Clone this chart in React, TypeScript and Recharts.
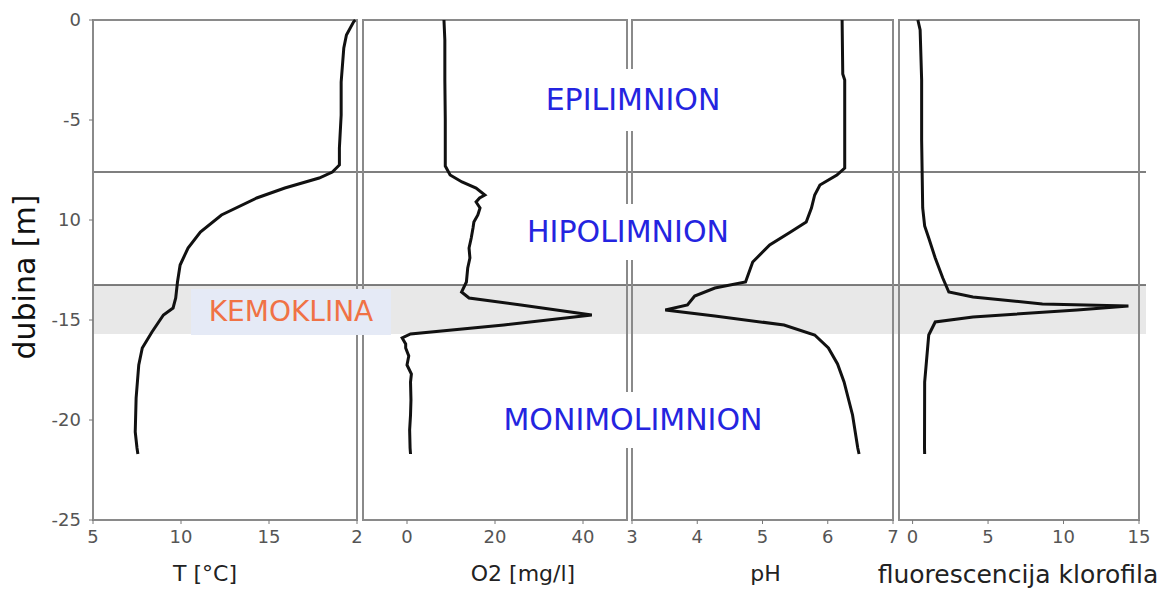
import React from 'react';
import { LineChart, Line, XAxis, YAxis, ReferenceArea, ReferenceLine, Label } from 'recharts';

// depth profiles (depth in m, negative downwards)
const tempDepth = [0, -0.1, -0.75, -1.4, -3.1, -4.75, -6.4, -7.25, -7.6, -7.9, -8.4, -8.9, -9.75, -10.6, -11.4, -12.25, -13.1, -13.9, -14.4, -14.75, -15.6, -16.4, -17.25, -18.9, -20.6, -21.4, -21.7];
const tempValues = [19.9, 19.8, 19.4, 19.25, 19.1, 19.1, 19.0, 19.0, 18.6, 17.85, 15.9, 14.3, 12.3, 11.1, 10.4, 9.95, 9.8, 9.7, 9.55, 9.0, 8.35, 7.8, 7.6, 7.45, 7.4, 7.5, 7.55];

const o2Depth = [0, -1, -3, -5, -7.3, -7.75, -8.1, -8.4, -8.75, -8.9, -9.1, -9.4, -9.75, -10.1, -10.4, -10.9, -11.4, -11.9, -12.4, -13.1, -13.6, -13.9, -14.25, -14.75, -15.25, -15.7, -15.9, -16.2, -16.4, -16.8, -17.25, -17.7, -18.1, -19, -19.75, -20.5, -21.4, -21.7];
const o2Values = [8.4, 8.6, 8.6, 8.7, 8.7, 9.8, 12.5, 15.7, 17.7, 16.5, 15.7, 16.6, 16.1, 15.2, 15.0, 14.6, 14.1, 14.3, 13.8, 13.5, 12.4, 14.1, 25.9, 42, 22, 0.8, -1.1, -0.3, -0.3, 0.4, 0, 1.0, 0.8, 0.9, 0.8, 0.6, 0.7, 0.8];

const phDepth = [0, -2.7, -3, -7.4, -7.75, -8.25, -8.75, -9.4, -10.1, -10.6, -11.25, -12.1, -13.1, -13.4, -13.8, -14.25, -14.5, -14.8, -15.25, -15.75, -16.4, -17.2, -18.1, -19.75, -21.4, -21.7];
const phValues = [6.22, 6.23, 6.26, 6.26, 6.14, 5.88, 5.8, 5.75, 5.67, 5.43, 5.11, 4.85, 4.74, 4.27, 3.96, 3.85, 3.51, 4.27, 5.33, 5.8, 6.01, 6.15, 6.25, 6.38, 6.46, 6.48];

const fluorDepth = [0, -0.5, -3, -6, -9.4, -10.3, -10.9, -11.9, -12.9, -13.6, -13.85, -14.2, -14.3, -14.5, -14.85, -15.1, -15.75, -18.1, -21.4, -21.7];
const fluorValues = [0.35, 0.5, 0.6, 0.6, 0.67, 0.8, 1.07, 1.5, 2.0, 2.4, 4.0, 8.6, 14.3, 10.9, 4.0, 1.5, 1.07, 0.8, 0.79, 0.8];

const depthTicks = [0, -5, -10, -15, -20, -25];
const depthTickLabels = ['0', '-5', '10', '-15', '-20', '-25'];

const tempTicks = [5, 10, 15, 20];
const tempTickLabels = ['5', '10', '15', '2'];

const layerBounds = [0, -7.6, -13.25, -15.7];

const toRows = (depth: number[], values: number[]) => depth.map((d, i) => ({ depth: d, value: values[i] }));

const FONT = '"DejaVu Sans", sans-serif';
const TOP = 20;
const BOTTOM_GAP = 69;
const H = 589;

type PanelProps = {
  left: number;
  width: number;
  domain: [number, number];
  ticks: number[];
  tickLabels?: string[];
  depth: number[];
  values: number[];
  title: string;
  titleDx: number;
  titleSize: number;
  withYAxis?: boolean;
  padLeft?: number;
  padRight?: number;
};

function Panel({ left, width, domain, ticks, tickLabels, depth, values, title, titleDx, titleSize, withYAxis, padLeft = 0, padRight = 0 }: PanelProps) {
  const yW = withYAxis ? left : 0;
  const lp = withYAxis ? 0 : padLeft;
  const chartW = yW + lp + width + padRight;
  return (
    <div style={{ position: 'absolute', left: left - yW - lp, top: 0, width: chartW, height: H }}>
      <LineChart
        width={chartW}
        height={H}
        layout="vertical"
        data={toRows(depth, values)}
        margin={{ top: TOP, right: padRight, bottom: BOTTOM_GAP - 30, left: lp }}
      >
        <XAxis
          type="number"
          dataKey="value"
          domain={domain}
          ticks={ticks}
          interval={0}
          allowDataOverflow
          axisLine={false}
          height={30}
          tickSize={4}
          tickMargin={6}
          tickLine={{ stroke: '#777' }}
          tickFormatter={(v: number) => (tickLabels ? tickLabels[ticks.indexOf(v)] : String(v))}
          tick={{ fill: '#555', fontSize: 18, fontFamily: FONT }}
        >
          <Label value={title} position="bottom" offset={15} dx={titleDx} fill="#222" fontSize={titleSize} fontFamily={FONT} />
        </XAxis>
        <YAxis
          type="number"
          dataKey="depth"
          domain={[-25, 0]}
          reversed
          ticks={depthTicks}
          interval={0}
          hide={!withYAxis}
          width={yW}
          axisLine={false}
          tickSize={4}
          tickMargin={8}
          tickLine={{ stroke: '#777' }}
          tickFormatter={(v: number) => depthTickLabels[depthTicks.indexOf(v)] ?? String(v)}
          tick={{ fill: '#555', fontSize: 18, fontFamily: FONT }}
        >
          {withYAxis && (
            <Label
              content={() => (
                <text
                  x={24}
                  y={277}
                  transform="rotate(-90 24 277)"
                  textAnchor="middle"
                  dominantBaseline="central"
                  fill="#111"
                  fontSize={30}
                  fontFamily={FONT}
                >
                  dubina [m]
                </text>
              )}
            />
          )}
        </YAxis>
        <ReferenceArea x1={domain[0]} x2={domain[1]} y1={-25} y2={0} fill="none" stroke="#8a8a8a" strokeWidth={2} ifOverflow="visible" />
        <Line
          dataKey="value"
          stroke="#111"
          strokeWidth={3}
          dot={false}
          isAnimationActive={false}
        />
      </LineChart>
    </div>
  );
}

const boxText = (text: string, cx: number, cy: number, w: number, h: number, color: string, bg: string, size: number) => (
  <div
    style={{
      position: 'absolute',
      left: cx - w / 2,
      top: cy - h / 2,
      width: w,
      height: h,
      lineHeight: `${h}px`,
      textAlign: 'center',
      background: bg,
      color,
      fontSize: size,
      fontFamily: FONT,
      whiteSpace: 'nowrap',
    }}
  >
    {text}
  </div>
);

export default function App() {
  return (
    <div style={{ position: 'absolute', left: 0, top: 0, width: 1160, height: H, background: '#fff', fontFamily: FONT }}>
      <div style={{ position: 'absolute', left: 0, top: 0 }}>
        <LineChart
          width={1160}
          height={H}
          data={layerBounds.map((d) => ({ depth: d }))}
          margin={{ top: TOP, right: 14, bottom: BOTTOM_GAP, left: 93 }}
        >
          <XAxis type="number" domain={[0, 1]} hide />
          <YAxis type="number" dataKey="depth" domain={[-25, 0]} hide />
          <ReferenceArea y1={layerBounds[2]} y2={layerBounds[3]} fill="#e8e8e8" fillOpacity={1} stroke="none" />
          <ReferenceLine y={layerBounds[1]} stroke="#555" strokeWidth={1.6} />
          <ReferenceLine y={layerBounds[2]} stroke="#555" strokeWidth={1.6} />
        </LineChart>
      </div>

      <Panel left={93} width={264} domain={[5, 20]} ticks={tempTicks} tickLabels={tempTickLabels} depth={tempDepth} values={tempValues} title="T [°C]" titleDx={-20} titleSize={22} withYAxis padRight={10} />
      <Panel left={363} width={264} domain={[-10, 50]} ticks={[0, 20, 40]} depth={o2Depth} values={o2Values} title="O2 [mg/l]" titleDx={28} titleSize={22} padLeft={10} padRight={10} />
      <Panel left={632} width={261} domain={[3, 7]} ticks={[3, 4, 5, 6, 7]} depth={phDepth} values={phValues} title="pH" titleDx={3} titleSize={22} padLeft={12} padRight={12} />
      <Panel left={899} width={240} domain={[-0.9, 15]} ticks={[0, 5, 10, 15]} depth={fluorDepth} values={fluorValues} title="fluorescencija klorofila" titleDx={-1} titleSize={25} padLeft={40} padRight={21} />

      {boxText('EPILIMNION', 633, 100, 205, 62, '#2424e0', '#fff', 30)}
      {boxText('HIPOLIMNION', 628, 232, 232, 56, '#2424e0', '#fff', 30)}
      {boxText('MONIMOLIMNION', 633, 420, 292, 56, '#2424e0', '#fff', 30)}
      {boxText('KEMOKLINA', 291, 312, 200, 46, '#f07245', '#e5eaf6', 28)}
    </div>
  );
}
